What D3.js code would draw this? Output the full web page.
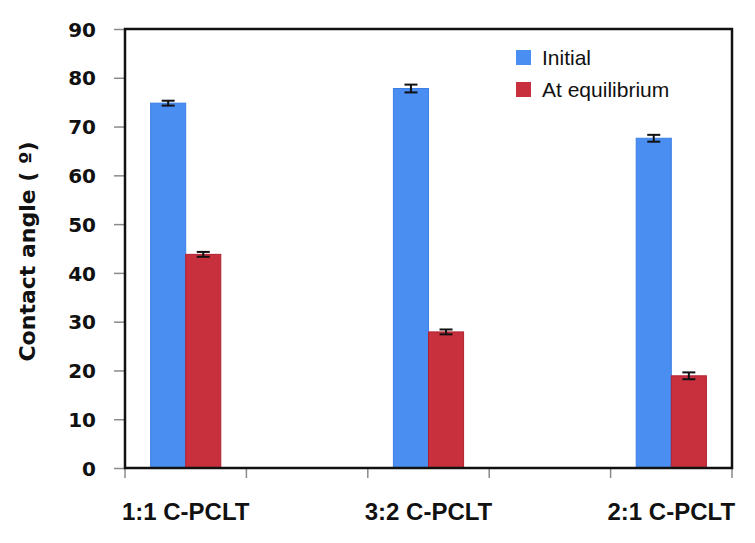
<!DOCTYPE html>
<html>
<head>
<meta charset="utf-8">
<script src="https://cdn.jsdelivr.net/npm/d3@7/dist/d3.min.js"></script>
<style>
  body { margin: 0; background: #fff; }
  .tick-label { font-family: "DejaVu Sans", Verdana, sans-serif; font-weight: bold; font-size: 20px; fill: #111; }
  .cat-label { font-family: "Liberation Sans", Arial, sans-serif; font-weight: bold; font-size: 24px; fill: #111; }
  .y-title { font-family: "DejaVu Sans", Verdana, sans-serif; font-weight: bold; font-size: 22px; fill: #111; }
  .legend-text { font-family: "Liberation Sans", Helvetica, Arial, sans-serif; font-size: 21px; fill: #111; }
</style>
</head>
<body>
<div id="chart"></div>
<script>
// data
const categories = ["1:1 C-PCLT", "3:2 C-PCLT", "2:1 C-PCLT"];
const slots = ["1:1 C-PCLT", "gap-a", "3:2 C-PCLT", "gap-b", "2:1 C-PCLT"]; // excel left empty categories between
const series = ["Initial", "At equilibrium"];
const initial = [74.8, 77.8, 67.6];
const initialErr = [0.5, 0.8, 0.7];
const equilibrium = [43.8, 27.9, 18.9];
const equilibriumErr = [0.5, 0.5, 0.7];
const yTicks = [0, 10, 20, 30, 40, 50, 60, 70, 80, 90];

const colors = {"Initial": "#4a8ef2", "At equilibrium": "#c8303e"};
const edges = {"Initial": "#3c7fe6", "At equilibrium": "#b02232"};

const margin = {top: 29, right: 23, bottom: 75, left: 125},
      width = 755 - margin.left - margin.right,
      height = 543 - margin.top - margin.bottom;

const svg = d3.select('#chart').append('svg')
    .attr("width", 755)
    .attr("height", 543)
    .append("g")
    .attr("transform", "translate(" + margin.left + "," + margin.top + ")");

const x = d3.scaleBand().domain(slots).range([0, width]).padding(0);
const x1 = d3.scaleBand().domain(series).range([0, x.bandwidth()]).paddingOuter(0.73).paddingInner(0);
const y = d3.scaleLinear().domain([0, 90]).range([height, 0]);

const rows = categories.map((c, i) => ({
    cat: c,
    vals: [
        {s: "Initial", v: initial[i], e: initialErr[i]},
        {s: "At equilibrium", v: equilibrium[i], e: equilibriumErr[i]}
    ]
}));

// bars
const groups = svg.selectAll(".cat")
    .data(rows)
    .enter().append("g")
    .attr("class", "cat")
    .attr("transform", d => "translate(" + x(d.cat) + ",0)");

groups.selectAll("rect")
    .data(d => d.vals)
    .enter().append("rect")
    .attr("x", d => x1(d.s))
    .attr("y", d => y(d.v))
    .attr("width", x1.bandwidth())
    .attr("height", d => height - y(d.v))
    .style("fill", d => colors[d.s])
    .style("stroke", d => edges[d.s])
    .style("stroke-width", 1);

// error bars
const capW = 6.5;
const err = groups.selectAll(".err")
    .data(d => d.vals)
    .enter().append("g")
    .attr("class", "err")
    .attr("transform", d => "translate(" + (x1(d.s) + x1.bandwidth() / 2) + ",0)")
    .style("stroke", "#111")
    .style("stroke-width", 2);
err.append("line")
    .attr("y1", d => y(d.v + d.e)).attr("y2", d => y(d.v - d.e));
err.append("line")
    .attr("x1", -capW).attr("x2", capW)
    .attr("y1", d => y(d.v + d.e)).attr("y2", d => y(d.v + d.e));
err.append("line")
    .attr("x1", -capW).attr("x2", capW)
    .attr("y1", d => y(d.v - d.e)).attr("y2", d => y(d.v - d.e));

// y axis ticks and labels
const yAxis = svg.append("g")
    .call(d3.axisLeft(y).tickValues(yTicks).tickSize(11).tickPadding(18).tickFormat(d3.format("d")));
yAxis.select(".domain").remove();
yAxis.selectAll(".tick line").style("stroke", "#8a8a8a").style("stroke-width", 1.5);
yAxis.selectAll(".tick text").attr("class", "tick-label").attr("dy", "0.36em");

// x axis: ticks on category boundaries
const bounds = d3.range(slots.length + 1).map(i => i * x.step());
svg.selectAll(".xtick")
    .data(bounds)
    .enter().append("line")
    .attr("class", "xtick")
    .attr("x1", d => d).attr("x2", d => d)
    .attr("y1", height).attr("y2", height + 10)
    .style("stroke", "#8a8a8a")
    .style("stroke-width", 1.5);

svg.selectAll(".cat-label")
    .data(categories)
    .enter().append("text")
    .attr("class", "cat-label")
    .attr("x", d => x(d) + x.bandwidth() / 2)
    .attr("y", height + 52)
    .style("text-anchor", "middle")
    .text(d => d);

// plot frame
svg.append("rect")
    .attr("x", 0).attr("y", 0)
    .attr("width", width).attr("height", height)
    .style("fill", "none")
    .style("stroke", "#111")
    .style("stroke-width", 2.5);

// y title
svg.append("text")
    .attr("class", "y-title")
    .attr("transform", "translate(" + (-margin.left + 35) + "," + (height / 2 + 3) + ") rotate(-90)")
    .style("text-anchor", "middle")
    .text("Contact angle ( º)");

// legend
const legend = svg.selectAll(".legend")
    .data(series)
    .enter().append("g")
    .attr("class", "legend")
    .attr("transform", (d, i) => "translate(" + (516 - margin.left) + "," + (50 - margin.top + i * 32) + ")");
legend.append("rect")
    .attr("width", 15).attr("height", 15)
    .style("fill", d => colors[d]);
legend.append("text")
    .attr("class", "legend-text")
    .attr("x", 26)
    .attr("y", 15)
    .text(d => d);
</script>
</body>
</html>
